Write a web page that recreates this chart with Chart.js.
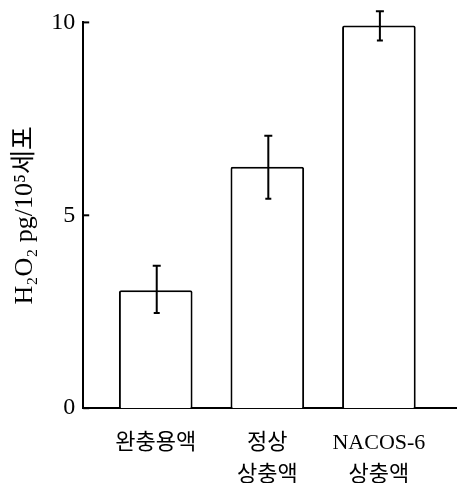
<!DOCTYPE html>
<html>
<head>
<meta charset="utf-8">
<script src="https://cdn.jsdelivr.net/npm/chart.js@4/dist/chart.umd.min.js"></script>
<style>
html,body{margin:0;padding:0;background:#fff;}
#wrap{width:457px;height:483px;position:relative;}
</style>
</head>
<body>
<div id="wrap"><canvas id="c" width="457" height="483"></canvas></div>
<script>
const categories = [['완충용액'], ['정상', '상충액'], ['NACOS-6', '상충액']];
const values = [3.06, 6.26, 9.92];
const errLow = [2.47, 5.43, 9.53];
const errHigh = [3.69, 7.06, 10.29];
const yTicks = [0, 5, 10];
const yTitle = 'H₂O₂ pg/10⁵세포';

const serif = "'Liberation Serif', 'DejaVu Serif', 'Noto Sans CJK KR', serif";

const errorBarPlugin = {
  id: 'errorBars',
  afterDatasetsDraw(chart) {
    const ctx = chart.ctx;
    const xs = chart.scales.x, ys = chart.scales.y;
    ctx.save();
    ctx.strokeStyle = '#000';
    ctx.lineWidth = 2;
    values.forEach((v, i) => {
      const x = xs.getPixelForValue(i) + 1;
      const yl = ys.getPixelForValue(errLow[i]);
      const yh = ys.getPixelForValue(errHigh[i]);
      ctx.beginPath();
      ctx.moveTo(x, yl); ctx.lineTo(x, yh);
      ctx.moveTo(x - 4, yh); ctx.lineTo(x + 4, yh);
      ctx.moveTo(x - 3, yl); ctx.lineTo(x + 3, yl);
      ctx.stroke();
    });
    yTicks.forEach(t => {
      const y = ys.getPixelForValue(t);
      ctx.beginPath();
      ctx.moveTo(xs.left, y); ctx.lineTo(xs.left + 6, y);
      ctx.stroke();
    });
    ctx.restore();
  }
};

new Chart(document.getElementById('c'), {
  type: 'bar',
  data: {
    datasets: [{
      data: values.map((v, i) => ({ x: i, y: v })),
      backgroundColor: '#fff',
      borderColor: '#000',
      borderWidth: 2,
      borderRadius: 2,
      borderSkipped: 'bottom',
      categoryPercentage: 0.66,
      barPercentage: 1
    }]
  },
  options: {
    responsive: false,
    animation: false,
    layout: { padding: { left: 8, top: 10, right: 0, bottom: -19 } },
    plugins: { legend: { display: false }, tooltip: { enabled: false } },
    scales: {
      x: {
        type: 'linear',
        min: -0.65,
        max: 2.7,
        offset: false,
        grid: { display: false },
        border: { display: true, color: '#000', width: 2 },
        afterBuildTicks: s => { s.ticks = categories.map((c, i) => ({ value: i })); },
        ticks: {
          autoSkip: false,
          maxRotation: 0,
          padding: 11,
          color: '#000',
          font: { family: serif, size: 22, lineHeight: 1.45 },
          callback: v => categories[v]
        }
      },
      y: {
        min: 0,
        max: 10,
        grid: { display: false, drawTicks: false },
        border: { display: true, color: '#000', width: 2 },
        afterBuildTicks: s => { s.ticks = yTicks.map(v => ({ value: v })); },
        ticks: {
          padding: 8,
          color: '#000',
          font: { family: serif, size: 24 }
        },
        title: {
          display: true,
          text: yTitle,
          color: '#000',
          padding: { top: 2, bottom: 2 },
          font: { family: serif, size: 26 }
        }
      }
    }
  },
  plugins: [errorBarPlugin]
});
</script>
</body>
</html>
